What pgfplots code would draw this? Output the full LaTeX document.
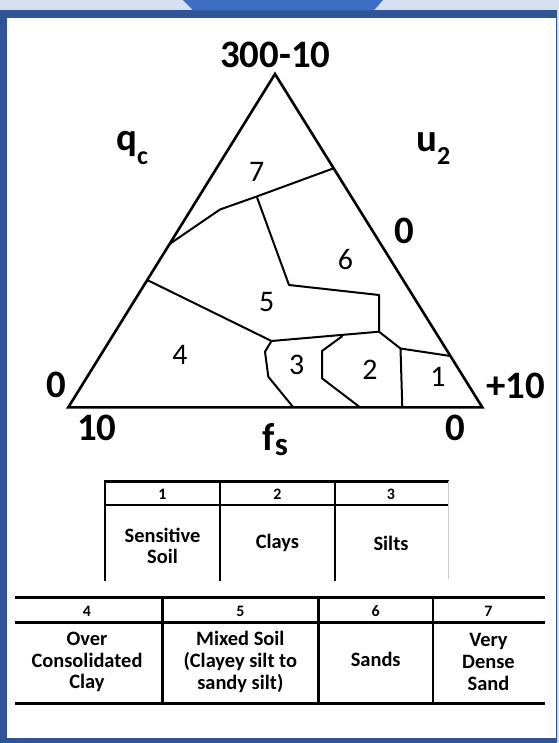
\documentclass[border=0pt]{standalone}
\usepackage{pgfplots}
\pgfplotsset{compat=1.18}
\usepackage{fontspec}
\setmainfont{Carlito}
\definecolor{bandblue}{HTML}{D6E0F1}
\definecolor{frameblue}{HTML}{2F5597}
\definecolor{tabblue}{HTML}{3E6DC5}

\tikzset{
  zline/.style={black, line width=2bp, line join=round},
  tline/.style={black, line width=2.7bp, line cap=rect},
  lbl/.style={inner sep=0, font=\fontsize{39}{42}\selectfont\bfseries},
  zone/.style={inner sep=0, font=\fontsize{30}{32}\selectfont},
  thead/.style={inner sep=0, font=\fontsize{16}{17}\selectfont\bfseries},
  tbody/.style={inner sep=0, align=center, font=\fontsize{20.5}{21.7}\selectfont\bfseries},
}

\begin{document}
\begin{tikzpicture}
\begin{axis}[
  width=559bp, height=743bp, scale only axis,
  xmin=0, xmax=559, ymin=0, ymax=743, y dir=reverse,
  hide axis, clip=false
]
% page frame
\addplot[fill=bandblue, draw=none] coordinates {(0,0)(559,0)(559,743)(0,743)} -- cycle;
\addplot[fill=frameblue, draw=none] coordinates {(0,10.3)(557.3,10.3)(557.3,743)(0,743)} -- cycle;
\addplot[fill=white, draw=none] coordinates {(7.3,18.3)(555.7,18.3)(555.7,738.3)(7.3,738.3)} -- cycle;
\addplot[fill=tabblue, draw=none] coordinates {(183,0)(193,10.3)(374,10.3)(383,0)} -- cycle;

% triangle
\addplot[black, line width=2.6bp, line join=miter] coordinates {(275,74)(482.3,407.3)(68.3,407.3)} -- cycle;

% zone boundaries
\addplot[zline] coordinates {(169.6,244)(220,209.5)(256.7,196.5)(333.6,168.3)};
\addplot[zline] coordinates {(256.7,196.5)(289,285)(379,295)(379,331.7)};
\addplot[zline] coordinates {(147.2,280)(271.5,341)(379,331.7)};
\addplot[zline] coordinates {(271.5,341)(265,351.7)(268.3,376.7)(293.3,407.3)};
\addplot[zline] coordinates {(342.5,336)(322,351)(322,378.3)(360,407.3)};
\addplot[zline] coordinates {(379,331.7)(400.5,348.5)(450.4,356)};
\addplot[zline] coordinates {(400.5,348.5)(402.3,407.3)};

% zone numbers
\node[zone] at (256.7,171.7) {7};
\node[zone] at (345.5,260) {6};
\node[zone] at (266.7,301.7) {5};
\node[zone] at (180,355) {4};
\node[zone] at (296.7,365) {3};
\node[zone] at (370,370) {2};
\node[zone] at (438,377) {1};

% axis labels
\node[lbl] at (275.3,55) {300-10};
\node[lbl, anchor=base west] at (116,151) {q\raisebox{-14bp}{\fontsize{26}{26}\selectfont c}};
\node[lbl, anchor=base west] at (416,151.7) {u\raisebox{-13bp}{\fontsize{26}{26}\selectfont 2}};
\node[lbl] at (404.5,231) {0};
\node[lbl] at (56,385) {0};
\node[lbl] at (515.7,386) {+10};
\node[lbl] at (96.7,427.5) {10};
\node[lbl] at (455.7,427.5) {0};
\node[lbl, anchor=base west] at (262.5,450) {f\raisebox{-5bp}{\fontsize{33}{33}\selectfont s}};

% table 1
\addplot[tline] coordinates {(105,481.7)(447.3,481.7)};
\addplot[tline] coordinates {(105,505)(447.3,505)};
\addplot[tline] coordinates {(105,481.7)(105,579.3)};
\addplot[tline] coordinates {(220,481.7)(220,579.3)};
\addplot[tline] coordinates {(335,481.7)(335,579.3)};
\addplot[gray!40, line width=0.6bp] coordinates {(448.6,481)(448.6,579.3)};
\node[thead] at (162.5,494) {1};
\node[thead] at (277.5,494) {2};
\node[thead] at (391,494) {3};
\node[tbody] at (162.5,546) {Sensitive\\Soil};
\node[tbody] at (277.5,543.3) {Clays};
\node[tbody] at (391,543.3) {Silts};

% table 2
\addplot[tline] coordinates {(16,597.7)(544,597.7)};
\addplot[tline] coordinates {(16,622.3)(544,622.3)};
\addplot[tline] coordinates {(16,703.3)(544,703.3)};
\addplot[tline] coordinates {(162.3,597.7)(162.3,703.3)};
\addplot[tline] coordinates {(318.3,597.7)(318.3,703.3)};
\addplot[tline] coordinates {(433,597.7)(433,703.3)};
\node[thead] at (87,611) {4};
\node[thead] at (240.3,611) {5};
\node[thead] at (375.7,611) {6};
\node[thead] at (488.5,611) {7};
\node[tbody] at (87,662) {Over\\Consolidated\\Clay};
\node[tbody] at (240.3,662) {Mixed Soil\\(Clayey silt to\\sandy silt)};
\node[tbody] at (375.7,659) {Sands};
\node[tbody] at (488.5,662) {Very\\Dense\\Sand};
\end{axis}
\end{tikzpicture}
\end{document}
